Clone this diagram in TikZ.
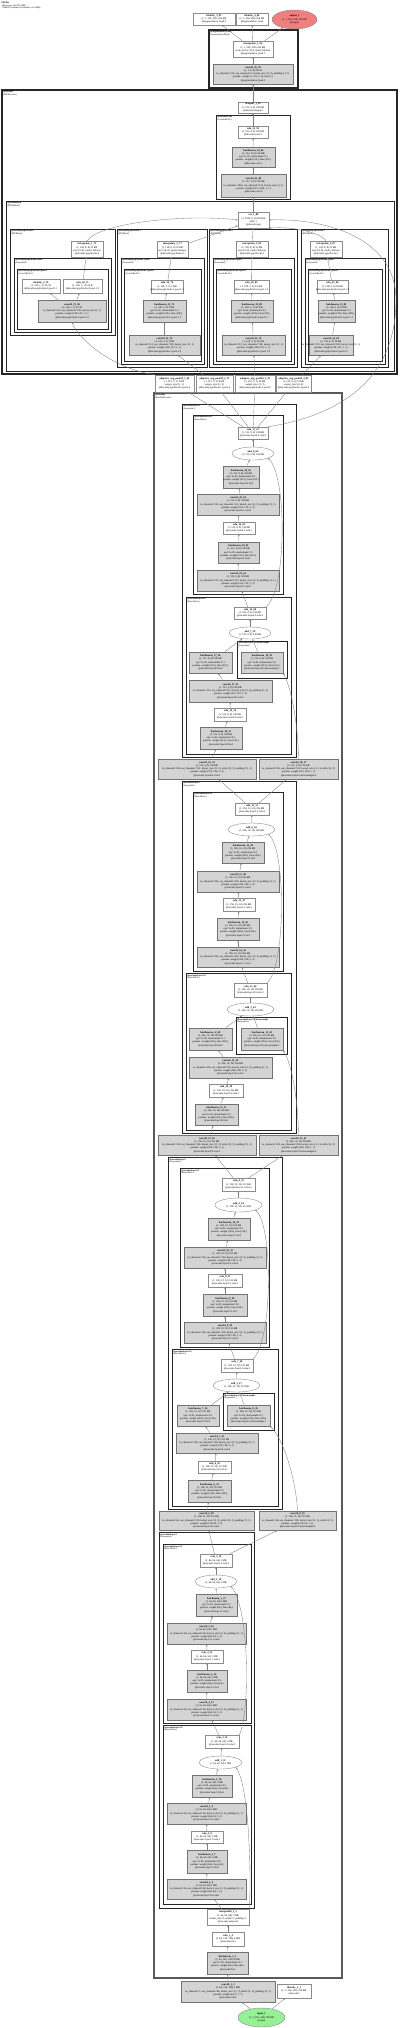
\documentclass[tikz,border=0pt]{standalone}
\usepackage{fontspec}
\setmainfont{Liberation Serif}
\usetikzlibrary{shapes.geometric,arrows.meta}
\definecolor{outc}{RGB}{240,128,128}
\definecolor{inc}{RGB}{152,240,150}
\newcommand{\nfont}{\fontsize{2.6}{3.2}\selectfont}
\newcommand{\cfont}{\fontsize{2.3}{2.7}\selectfont}
\newcommand{\T}[1]{\makebox[0pt]{\begin{tabular}{@{}c@{}}#1\end{tabular}}}
\newcommand{\nb}[7]{\node[#2, minimum width={(#5)-(#3)}, minimum height={(#6)-(#4)}] (#1) at ({((#3)+(#5))/2},{((#4)+(#6))/2}) {#7};}
\newcommand{\cl}[8]{\draw[clus, line width=#6] (#2,#3) rectangle (#4,#5); \node[clab] (#1) at (#2+1.2,#3+0.9) {\begin{tabular}{@{}l@{}}\textbf{#7}\\#8\end{tabular}};}
\newcommand{\cvt}[5]{\T{\textbf{#1}\\#2\\#3\\params: weight #4\\@#5}}
\newcommand{\bnt}[4]{\T{\textbf{#1}\\#2\\eps=1e-05, momentum=0.1\\params: weight (#3,), bias (#3,)\\@#4}}
\newcommand{\rlt}[3]{\T{\textbf{#1}\\#2\\@#3}}
\newcommand{\adt}[2]{\T{\textbf{#1}\\#2}}
\newcommand{\szE}{(1, 512, 8, 8) 128 KB}
\newcommand{\szF}{(1, 256, 16, 16) 256 KB}
\newcommand{\szG}{(1, 128, 32, 32) 512 KB}
\newcommand{\szH}{(1, 64, 64, 64) 1 MB}
\newcommand{\kk}{kernel\_size=(3, 3), padding=(1, 1)}
\tikzset{
 fn/.style={draw=black!45, fill=white, line width=0.4pt, rectangle, inner sep=0pt, font=\nfont},
 par/.style={draw=black!55, fill=black!17, line width=0.7pt, rectangle, inner sep=0pt, font=\nfont},
 addn/.style={draw=black!45, fill=white, line width=0.4pt, ellipse, inner sep=0pt, font=\nfont},
 outn/.style={addn, fill=outc},
 inn/.style={addn, fill=inc},
 clus/.style={draw=black!85},
 clab/.style={anchor=north west, inner sep=0pt, font=\cfont},
 edge/.style={draw=black!50, line width=0.35pt, -{Stealth[length=2pt,width=1.6pt]}}
}
\begin{document}
\catcode`\_=12
\begin{tikzpicture}[x=1pt,y=-1pt]
\useasboundingbox (0,0) rectangle (400,2028);
\fill[white] (0,0) rectangle (400,2028);
\node[anchor=north west, inner sep=0pt, font=\cfont] (title) at (1.5,1.5) {\begin{tabular}{@{}l@{}}\textbf{PSPNet}\\196 tensors total (8.0 MB)\\11349921 params (all trainable, 43.4 MB)\end{tabular}};
% clusters
\cl{kseg}{209}{30}{298}{88}{1.2pt}{@segmentation_head}{(SegmentationHead)}
\cl{kdec}{2}{90}{397}{374}{1.1pt}{@decoder}{(PSPDecoder)}
\cl{kdconv}{216}{115}{290}{199}{0.9pt}{@decoder.conv}{(Conv2dReLU)}
\cl{kpsp}{6}{201}{394}{371}{0.9pt}{@decoder.psp}{(PSPModule)}
\cl{kbA}{10}{229}{115}{335}{0.75pt}{@decoder.psp.blocks.0}{(PSPBlock)}
\cl{kbAp}{14}{258}{111}{332}{0.6pt}{@decoder.psp.blocks.0.pool}{(Sequential)}
\cl{kbAc}{17}{269}{108}{329}{0.5pt}{@decoder.psp.blocks.0.pool.1}{(Conv2dReLU)}
\cl{kbB}{117}{229}{207}{367}{0.75pt}{@decoder.psp.blocks.1}{(PSPBlock)}
\cl{kbBp}{121}{258}{204}{364}{0.6pt}{@decoder.psp.blocks.1.pool}{(Sequential)}
\cl{kbBc}{124}{269}{201}{361}{0.5pt}{@decoder.psp.blocks.1.pool.1}{(Conv2dReLU)}
\cl{kbC}{209}{229}{297}{367}{0.75pt}{@decoder.psp.blocks.2}{(PSPBlock)}
\cl{kbCp}{213}{258}{294}{364}{0.6pt}{@decoder.psp.blocks.2.pool}{(Sequential)}
\cl{kbCc}{216}{269}{291}{361}{0.5pt}{@decoder.psp.blocks.2.pool.1}{(Conv2dReLU)}
\cl{kbD}{301}{229}{388}{367}{0.75pt}{@decoder.psp.blocks.3}{(PSPBlock)}
\cl{kbDp}{305}{258}{385}{364}{0.6pt}{@decoder.psp.blocks.3.pool}{(Sequential)}
\cl{kbDc}{308}{269}{382}{361}{0.5pt}{@decoder.psp.blocks.3.pool.1}{(Conv2dReLU)}
\draw[draw=black!65, line width=1.3pt] (154,393) rectangle (342,1978);
\node[clab] (kenc) at (155.2,393.9) {\begin{tabular}{@{}l@{}}\textbf{@encoder}\\(ResNetEncoder)\end{tabular}};
\cl{klD}{182}{404}{296}{757}{0.9pt}{@encoder.layer4}{(Sequential)}
\cl{klDb}{193}{415}{283}{594}{0.75pt}{@encoder.layer4.1}{(BasicBlock)}
\cl{klDa}{186}{597}{291}{754}{0.75pt}{@encoder.layer4.0}{(BasicBlock)}
\cl{klDd}{237}{641}{287}{678}{0.6pt}{@encoder.layer4.0.downsample}{(Sequential)}
\cl{klC}{182}{781}{296}{1133}{0.9pt}{@encoder.layer3}{(Sequential)}
\cl{klCb}{193}{792}{283}{971}{0.75pt}{@encoder.layer3.1}{(BasicBlock)}
\cl{klCa}{186}{973}{291}{1130}{0.75pt}{@encoder.layer3.0}{(BasicBlock)}
\cl{klCd}{236}{1017}{287}{1054}{0.6pt}{@encoder.layer3.0.downsample}{(Sequential)}
\cl{klB}{168}{1157}{282}{1509}{0.9pt}{@encoder.layer2}{(Sequential)}
\cl{klBb}{180}{1168}{269}{1347}{0.75pt}{@encoder.layer2.1}{(BasicBlock)}
\cl{klBa}{172}{1349}{278}{1506}{0.75pt}{@encoder.layer2.0}{(BasicBlock)}
\cl{klBd}{223}{1393}{274}{1430}{0.6pt}{@encoder.layer2.0.downsample}{(Sequential)}
\cl{klA}{159}{1532}{254}{1908}{0.9pt}{@encoder.layer1}{(Sequential)}
\cl{klAb}{163}{1544}{251}{1723}{0.75pt}{@encoder.layer1.1}{(BasicBlock)}
\cl{klAa}{163}{1725}{251}{1904}{0.75pt}{@encoder.layer1.0}{(BasicBlock)}
% top
\nb{idt}{fn}{193}{13}{235}{25}{\rlt{identity_3_95}{(1, 1, 256, 256) 256 KB}{segmentation_head.2}}
\nb{idtb}{fn}{236}{13}{268}{25}{\rlt{identity_4_96}{(1, 1, 256, 256) 256 KB}{segmentation_head}}
\nb{outp}{outn}{272}{10}{317}{29}{\rlt{output_1}{(1, 1, 256, 256) 256 KB}{output}}
\nb{interph}{fn}{233}{41}{273}{57}{\T{\textbf{interpolate_5_94}\\(1, 1, 256, 256) 256 KB\\scale_factor=32.0, mode=bilinear\\@segmentation_head.1}}
\nb{convh}{par}{213}{64}{293}{84}{\cvt{conv2d_26_93}{(1, 1, 8, 8) 256 B}{in_channels=512, out_channels=1, \kk}{(1, 512, 3, 3), bias (1,)}{segmentation_head.0}}
\nb{drop}{fn}{238}{102}{268}{113}{\rlt{dropout_1_92}{\szE}{decoder.dropout}}
\nb{rd}{fn}{238}{126}{268}{138}{\rlt{relu_22_91}{\szE}{decoder.conv.2}}
\nb{bnd}{par}{232}{147}{275}{167}{\bnt{batchnorm_24_90}{\szE}{512}{decoder.conv.1}}
\nb{convd}{par}{221}{174}{286}{197}{\cvt{conv2d_25_89}{\szE}{in_channels=1024, out_channels=512, kernel_size=(1, 1)}{(512, 1024, 1, 1)}{decoder.conv.0}}
\nb{cat}{fn}{238}{212}{269}{228}{\T{\textbf{cat_1_88}\\(1, 1024, 8, 8) 256 KB\\dim=1\\@decoder.psp}}
% psp blocks
\nb{iA}{fn}{71}{241}{103}{257}{\T{\textbf{interpolate_1_72}\\(1, 128, 8, 8) 32 KB\\size=(8, 8), mode=bilinear\\@decoder.psp.blocks.0}}
\nb{idA}{fn}{22}{279}{60}{293}{\rlt{identity_2_70}{(1, 128, 1, 1) 512 B}{decoder.psp.blocks.0.pool.1.1}}
\nb{rA}{fn}{63}{279}{102}{293}{\rlt{relu_18_71}{(1, 128, 1, 1) 512 B}{decoder.psp.blocks.0.pool.1.2}}
\nb{cA}{par}{38}{300}{106}{322}{\cvt{conv2d_21_69}{(1, 128, 1, 1) 512 B}{in_channels=512, out_channels=128, kernel_size=(1, 1)}{(128, 512, 1, 1)}{decoder.psp.blocks.0.pool.1.0}}
\nb{iB}{fn}{157}{241}{188}{257}{\T{\textbf{interpolate_2_77}\\(1, 128, 8, 8) 32 KB\\size=(8, 8), mode=bilinear\\@decoder.psp.blocks.1}}
\nb{rB}{fn}{151}{280}{183}{293}{\rlt{relu_19_76}{(1, 128, 2, 2) 2 KB}{decoder.psp.blocks.1.pool.1.2}}
\nb{bnB}{par}{143}{300}{186}{322}{\bnt{batchnorm_21_75}{(1, 128, 2, 2) 2 KB}{128}{decoder.psp.blocks.1.pool.1.1}}
\nb{cB}{par}{129}{335}{200}{355}{\cvt{conv2d_22_74}{(1, 128, 2, 2) 2 KB}{in_channels=512, out_channels=128, kernel_size=(1, 1)}{(128, 512, 1, 1)}{decoder.psp.blocks.1.pool.1.0}}
\nb{iC}{fn}{236}{241}{268}{257}{\T{\textbf{interpolate_3_82}\\(1, 128, 8, 8) 32 KB\\size=(8, 8), mode=bilinear\\@decoder.psp.blocks.2}}
\nb{rC}{fn}{234}{280}{269}{293}{\rlt{relu_20_81}{(1, 128, 3, 3) 4.5 KB}{decoder.psp.blocks.2.pool.1.2}}
\nb{bnC}{par}{231}{300}{273}{322}{\bnt{batchnorm_22_80}{(1, 128, 3, 3) 4.5 KB}{128}{decoder.psp.blocks.2.pool.1.1}}
\nb{cC}{par}{222}{335}{285}{355}{\cvt{conv2d_23_79}{(1, 128, 3, 3) 4.5 KB}{in_channels=512, out_channels=128, kernel_size=(1, 1)}{(128, 512, 1, 1)}{decoder.psp.blocks.2.pool.1.0}}
\nb{iD}{fn}{310}{241}{342}{257}{\T{\textbf{interpolate_4_87}\\(1, 128, 8, 8) 32 KB\\size=(8, 8), mode=bilinear\\@decoder.psp.blocks.3}}
\nb{rD}{fn}{317}{280}{348}{293}{\rlt{relu_21_86}{(1, 128, 6, 6) 18 KB}{decoder.psp.blocks.3.pool.1.2}}
\nb{bnD}{par}{318}{300}{355}{322}{\bnt{batchnorm_23_85}{(1, 128, 6, 6) 18 KB}{128}{decoder.psp.blocks.3.pool.1.1}}
\nb{cD}{par}{309}{335}{353}{355}{\cvt{conv2d_24_84}{(1, 128, 6, 6) 18 KB}{in_channels=512, out_channels=128, kernel_size=(1, 1)}{(128, 512, 1, 1)}{decoder.psp.blocks.3.pool.1.0}}
\nb{pA}{fn}{155}{375}{194}{392}{\T{\textbf{adaptive_avg_pool2d_1_68}\\(1, 512, 1, 1) 2 KB\\output_size=(1, 1)\\@decoder.psp.blocks.0.pool.0}}
\nb{pB}{fn}{196}{375}{233}{392}{\T{\textbf{adaptive_avg_pool2d_2_73}\\(1, 512, 2, 2) 8 KB\\output_size=(2, 2)\\@decoder.psp.blocks.1.pool.0}}
\nb{pC}{fn}{235}{375}{275}{392}{\T{\textbf{adaptive_avg_pool2d_3_78}\\(1, 512, 3, 3) 18 KB\\output_size=(3, 3)\\@decoder.psp.blocks.2.pool.0}}
\nb{pD}{fn}{276}{375}{311}{392}{\T{\textbf{adaptive_avg_pool2d_4_83}\\(1, 512, 6, 6) 72 KB\\output_size=(6, 6)\\@decoder.psp.blocks.3.pool.0}}
% layer4
\nb{rDb}{fn}{238}{427}{268}{439}{\rlt{relu_17_67}{\szE}{encoder.layer4.1.relu:2}}
\nb{aDb}{addn}{232}{447}{274}{460}{\adt{add_8_66}{\szE}}
\nb{bnDb2}{par}{223}{466}{259}{488}{\bnt{batchnorm_20_65}{\szE}{512}{encoder.layer4.1.bn2}}
\nb{cDb2}{par}{197}{494}{279}{515}{\cvt{conv2d_20_64}{\szE}{in_channels=512, out_channels=512, \kk}{(512, 512, 3, 3)}{encoder.layer4.1.conv2}}
\nb{rDb1}{fn}{223}{522}{255}{534}{\rlt{relu_16_63}{\szE}{encoder.layer4.1.relu:1}}
\nb{bnDb1}{par}{218}{542}{259}{563}{\bnt{batchnorm_19_62}{\szE}{512}{encoder.layer4.1.bn1}}
\nb{cDb1}{par}{197}{570}{279}{591}{\cvt{conv2d_19_61}{\szE}{in_channels=512, out_channels=512, \kk}{(512, 512, 3, 3)}{encoder.layer4.1.conv1}}
\nb{rDa}{fn}{234}{607}{266}{619}{\rlt{relu_15_60}{\szE}{encoder.layer4.0.relu:2}}
\nb{aDa}{addn}{229}{627}{271}{639}{\adt{add_7_59}{\szE}}
\nb{bnDa2}{par}{189}{652}{232}{673}{\bnt{batchnorm_17_56}{\szE}{512}{encoder.layer4.0.bn2}}
\nb{dbD}{par}{241}{652}{283}{673}{\bnt{batchnorm_18_58}{\szE}{512}{encoder.layer4.0.downsample.1}}
\nb{cDa2}{par}{189}{680}{272}{702}{\cvt{conv2d_17_55}{\szE}{in_channels=512, out_channels=512, \kk}{(512, 512, 3, 3)}{encoder.layer4.0.conv2}}
\nb{rDa1}{fn}{214}{708}{246}{721}{\rlt{relu_14_54}{\szE}{encoder.layer4.0.relu:1}}
\nb{bnDa1}{par}{200}{727}{242}{749}{\bnt{batchnorm_16_53}{\szE}{512}{encoder.layer4.0.bn1}}
\nb{cDa1}{par}{158}{759}{256}{779}{\cvt{conv2d_16_52}{\szE}{in_channels=256, out_channels=512, kernel_size=(3, 3), stride=(2, 2), padding=(1, 1)}{(512, 256, 3, 3)}{encoder.layer4.0.conv1}}
\nb{dcD}{par}{259}{759}{338}{779}{\cvt{conv2d_18_57}{\szE}{in_channels=256, out_channels=512, kernel_size=(1, 1), stride=(2, 2)}{(512, 256, 1, 1)}{encoder.layer4.0.downsample.0}}
% layer3
\nb{rCb}{fn}{235}{803}{269}{815}{\rlt{relu_13_51}{\szF}{encoder.layer3.1.relu:2}}
\nb{aCb}{addn}{228}{823}{275}{836}{\adt{add_6_50}{\szF}}
\nb{bnCb2}{par}{222}{842}{264}{863}{\bnt{batchnorm_15_49}{\szF}{256}{encoder.layer3.1.bn2}}
\nb{cCb2}{par}{197}{871}{279}{892}{\cvt{conv2d_15_48}{\szF}{in_channels=256, out_channels=256, \kk}{(256, 256, 3, 3)}{encoder.layer3.1.conv2}}
\nb{rCb1}{fn}{223}{898}{255}{911}{\rlt{relu_12_47}{\szF}{encoder.layer3.1.relu:1}}
\nb{bnCb1}{par}{217}{918}{259}{940}{\bnt{batchnorm_14_46}{\szF}{256}{encoder.layer3.1.bn1}}
\nb{cCb1}{par}{197}{947}{279}{967}{\cvt{conv2d_14_45}{\szF}{in_channels=256, out_channels=256, \kk}{(256, 256, 3, 3)}{encoder.layer3.1.conv1}}
\nb{rCa}{fn}{234}{983}{267}{997}{\rlt{relu_11_44}{\szF}{encoder.layer3.0.relu:2}}
\nb{aCa}{addn}{227}{1003}{274}{1016}{\adt{add_5_43}{\szF}}
\nb{bnCa2}{par}{189}{1028}{232}{1050}{\bnt{batchnorm_12_40}{\szF}{256}{encoder.layer3.0.bn2}}
\nb{dbC}{par}{241}{1028}{283}{1050}{\bnt{batchnorm_13_42}{\szF}{256}{encoder.layer3.0.downsample.1}}
\nb{cCa2}{par}{189}{1057}{272}{1078}{\cvt{conv2d_12_39}{\szF}{in_channels=256, out_channels=256, \kk}{(256, 256, 3, 3)}{encoder.layer3.0.conv2}}
\nb{rCa1}{fn}{209}{1084}{243}{1097}{\rlt{relu_10_38}{\szF}{encoder.layer3.0.relu:1}}
\nb{bnCa1}{par}{195}{1104}{238}{1125}{\bnt{batchnorm_11_37}{\szF}{256}{encoder.layer3.0.bn1}}
\nb{cCa1}{par}{158}{1135}{256}{1155}{\cvt{conv2d_11_36}{\szF}{in_channels=128, out_channels=256, kernel_size=(3, 3), stride=(2, 2), padding=(1, 1)}{(256, 128, 3, 3)}{encoder.layer3.0.conv1}}
\nb{dcC}{par}{259}{1135}{338}{1155}{\cvt{conv2d_13_41}{\szF}{in_channels=128, out_channels=256, kernel_size=(1, 1), stride=(2, 2)}{(256, 128, 1, 1)}{encoder.layer3.0.downsample.0}}
% layer2
\nb{rBb}{fn}{222}{1178}{255}{1191}{\rlt{relu_9_35}{\szG}{encoder.layer2.1.relu:2}}
\nb{aBb}{addn}{215}{1198}{262}{1212}{\adt{add_4_34}{\szG}}
\nb{bnBb2}{par}{208}{1218}{250}{1240}{\bnt{batchnorm_10_33}{\szG}{128}{encoder.layer2.1.bn2}}
\nb{cBb2}{par}{184}{1247}{266}{1268}{\cvt{conv2d_10_32}{\szG}{in_channels=128, out_channels=128, \kk}{(128, 128, 3, 3)}{encoder.layer2.1.conv2}}
\nb{rBb1}{fn}{208}{1274}{242}{1287}{\rlt{relu_8_31}{\szG}{encoder.layer2.1.relu:1}}
\nb{bnBb1}{par}{203}{1294}{247}{1316}{\bnt{batchnorm_9_30}{\szG}{128}{encoder.layer2.1.bn1}}
\nb{cBb1}{par}{184}{1322}{266}{1343}{\cvt{conv2d_9_29}{\szG}{in_channels=128, out_channels=128, \kk}{(128, 128, 3, 3)}{encoder.layer2.1.conv1}}
\nb{rBa}{fn}{221}{1359}{253}{1372}{\rlt{relu_7_28}{\szG}{encoder.layer2.0.relu:2}}
\nb{aBa}{addn}{213}{1379}{260}{1392}{\adt{add_3_27}{\szG}}
\nb{bnBa2}{par}{177}{1405}{219}{1426}{\bnt{batchnorm_7_24}{\szG}{128}{encoder.layer2.0.bn2}}
\nb{dbB}{par}{227}{1405}{270}{1426}{\bnt{batchnorm_8_26}{\szG}{128}{encoder.layer2.0.downsample.1}}
\nb{cBa2}{par}{176}{1433}{258}{1453}{\cvt{conv2d_7_23}{\szG}{in_channels=128, out_channels=128, \kk}{(128, 128, 3, 3)}{encoder.layer2.0.conv2}}
\nb{rBa1}{fn}{198}{1461}{231}{1473}{\rlt{relu_6_22}{\szG}{encoder.layer2.0.relu:1}}
\nb{bnBa1}{par}{188}{1480}{231}{1502}{\bnt{batchnorm_6_21}{\szG}{128}{encoder.layer2.0.bn1}}
\nb{cBa1}{par}{159}{1511}{254}{1530}{\cvt{conv2d_6_20}{\szG}{in_channels=64, out_channels=128, kernel_size=(3, 3), stride=(2, 2), padding=(1, 1)}{(128, 64, 3, 3)}{encoder.layer2.0.conv1}}
\nb{dcB}{par}{259}{1511}{336}{1530}{\cvt{conv2d_8_25}{\szG}{in_channels=64, out_channels=128, kernel_size=(1, 1), stride=(2, 2)}{(128, 64, 1, 1)}{encoder.layer2.0.downsample.0}}
% layer1
\nb{rAb}{fn}{200}{1554}{232}{1567}{\rlt{relu_5_19}{\szH}{encoder.layer1.1.relu:2}}
\nb{aAb}{addn}{195}{1575}{237}{1588}{\adt{add_2_18}{\szH}}
\nb{bnAb2}{par}{196}{1594}{237}{1616}{\bnt{batchnorm_5_17}{\szH}{64}{encoder.layer1.1.bn2}}
\nb{cAb2}{par}{167}{1623}{246}{1644}{\cvt{conv2d_5_16}{\szH}{in_channels=64, out_channels=64, \kk}{(64, 64, 3, 3)}{encoder.layer1.1.conv2}}
\nb{rAb1}{fn}{191}{1650}{223}{1663}{\rlt{relu_4_15}{\szH}{encoder.layer1.1.relu:1}}
\nb{bnAb1}{par}{187}{1670}{227}{1692}{\bnt{batchnorm_4_14}{\szH}{64}{encoder.layer1.1.bn1}}
\nb{cAb1}{par}{167}{1699}{246}{1720}{\cvt{conv2d_4_13}{\szH}{in_channels=64, out_channels=64, \kk}{(64, 64, 3, 3)}{encoder.layer1.1.conv1}}
\nb{rAa}{fn}{205}{1735}{239}{1748}{\rlt{relu_3_12}{\szH}{encoder.layer1.0.relu:2}}
\nb{aAa}{addn}{199}{1756}{242}{1769}{\adt{add_1_11}{\szH}}
\nb{bnAa2}{par}{192}{1775}{232}{1797}{\bnt{batchnorm_3_10}{\szH}{64}{encoder.layer1.0.bn2}}
\nb{cAa2}{par}{167}{1803}{246}{1824}{\cvt{conv2d_3_9}{\szH}{in_channels=64, out_channels=64, \kk}{(64, 64, 3, 3)}{encoder.layer1.0.conv2}}
\nb{rAa1}{fn}{191}{1831}{223}{1843}{\rlt{relu_2_8}{\szH}{encoder.layer1.0.relu:1}}
\nb{bnAa1}{par}{187}{1850}{227}{1873}{\bnt{batchnorm_2_7}{\szH}{64}{encoder.layer1.0.bn1}}
\nb{cAa1}{par}{167}{1879}{246}{1899}{\cvt{conv2d_2_6}{\szH}{in_channels=64, out_channels=64, \kk}{(64, 64, 3, 3)}{encoder.layer1.0.conv1}}
% stem
\nb{mp}{fn}{207}{1909}{249}{1925}{\T{\textbf{maxpool2d_1_5}\\\szH\\kernel_size=3, stride=2, padding=1\\@encoder.maxpool}}
\nb{rst}{fn}{212}{1932}{244}{1946}{\rlt{relu_1_4}{(1, 64, 128, 128) 4 MB}{encoder.relu}}
\nb{bnst}{par}{207}{1952}{248}{1974}{\bnt{batchnorm_1_3}{(1, 64, 128, 128) 4 MB}{64}{encoder.bn1}}
\nb{cst}{par}{181}{1981}{275}{2002}{\cvt{conv2d_1_2}{(1, 64, 128, 128) 4 MB}{in_channels=3, out_channels=64, kernel_size=(7, 7), stride=(2, 2), padding=(3, 3)}{(64, 3, 7, 7)}{encoder.conv1}}
\nb{idb}{fn}{277}{1984}{311}{1998}{\rlt{identity_1_1}{(1, 3, 256, 256) 768 KB}{encoder}}
\nb{inp}{inn}{238}{2008}{285}{2027}{\rlt{input_1}{(1, 3, 256, 256) 768 KB}{input}}
% straight edges
\foreach \a/\b in {inp/cst, inp/idb, cst/bnst, bnst/rst, rst/mp, mp/cAa1,
 cAa1/bnAa1, bnAa1/rAa1, rAa1/cAa2, cAa2/bnAa2, bnAa2/aAa, aAa/rAa, rAa/cAb1,
 cAb1/bnAb1, bnAb1/rAb1, rAb1/cAb2, cAb2/bnAb2, bnAb2/aAb, aAb/rAb, rAb/cBa1, rAb/dcB,
 cBa1/bnBa1, bnBa1/rBa1, rBa1/cBa2, cBa2/bnBa2, bnBa2/aBa, dbB/aBa, aBa/rBa, rBa/cBb1,
 cBb1/bnBb1, bnBb1/rBb1, rBb1/cBb2, cBb2/bnBb2, bnBb2/aBb, aBb/rBb, rBb/cCa1, rBb/dcC,
 cCa1/bnCa1, bnCa1/rCa1, rCa1/cCa2, cCa2/bnCa2, bnCa2/aCa, dbC/aCa, aCa/rCa, rCa/cCb1,
 cCb1/bnCb1, bnCb1/rCb1, rCb1/cCb2, cCb2/bnCb2, bnCb2/aCb, aCb/rCb, rCb/cDa1, rCb/dcD,
 cDa1/bnDa1, bnDa1/rDa1, rDa1/cDa2, cDa2/bnDa2, bnDa2/aDa, dbD/aDa, aDa/rDa, rDa/cDb1,
 cDb1/bnDb1, bnDb1/rDb1, rDb1/cDb2, cDb2/bnDb2, bnDb2/aDb, aDb/rDb,
 rDb/pA, rDb/pB, rDb/pC, rDb/pD, pB/cB, pC/cC, pD/cD,
 cA/idA, cA/rA, rA/iA, cB/bnB, bnB/rB, rB/iB, cC/bnC, bnC/rC, rC/iC, cD/bnD, bnD/rD, rD/iD,
 iB/cat, iC/cat, cat/convd, convd/bnd, bnd/rd, rd/drop, drop/convh, convh/interph,
 interph/idt, interph/idtb, interph/outp}
 \draw[edge] (\a) -- (\b);
% curved edges
\draw[edge] (mp.north east) .. controls (251,1895) and (251,1790) .. (aAa.south east);
\draw[edge] (rAa.north east) .. controls (250,1715) and (250,1610) .. (aAb.south east);
\draw[edge] (rBa.north east) .. controls (273,1340) and (273,1225) .. (aBb.south east);
\draw[edge] (rCa.north east) .. controls (286,965) and (286,850) .. (aCb.south east);
\draw[edge] (rDa.north east) .. controls (287,590) and (287,475) .. (aDb.south east);
\draw[edge] (dcB.north) .. controls (296,1480) and (284,1440) .. (dbB.south east);
\draw[edge] (dcC.north) .. controls (298,1100) and (292,1065) .. (dbC.south east);
\draw[edge] (dcD.north) .. controls (298,725) and (292,690) .. (dbD.south east);
\draw[edge] (pA.north west) .. controls (120,370) and (82,345) .. (cA.south);
\draw[edge] (rDb.north east) .. controls (340,415) and (396,380) .. (396,300) .. controls (396,235) and (320,218) .. (cat.east);
\draw[edge] (iA.north) .. controls (100,222) and (190,214) .. (cat.west);
\draw[edge] (iD.north) .. controls (320,232) and (290,226) .. (cat.south east);
\end{tikzpicture}
\end{document}
